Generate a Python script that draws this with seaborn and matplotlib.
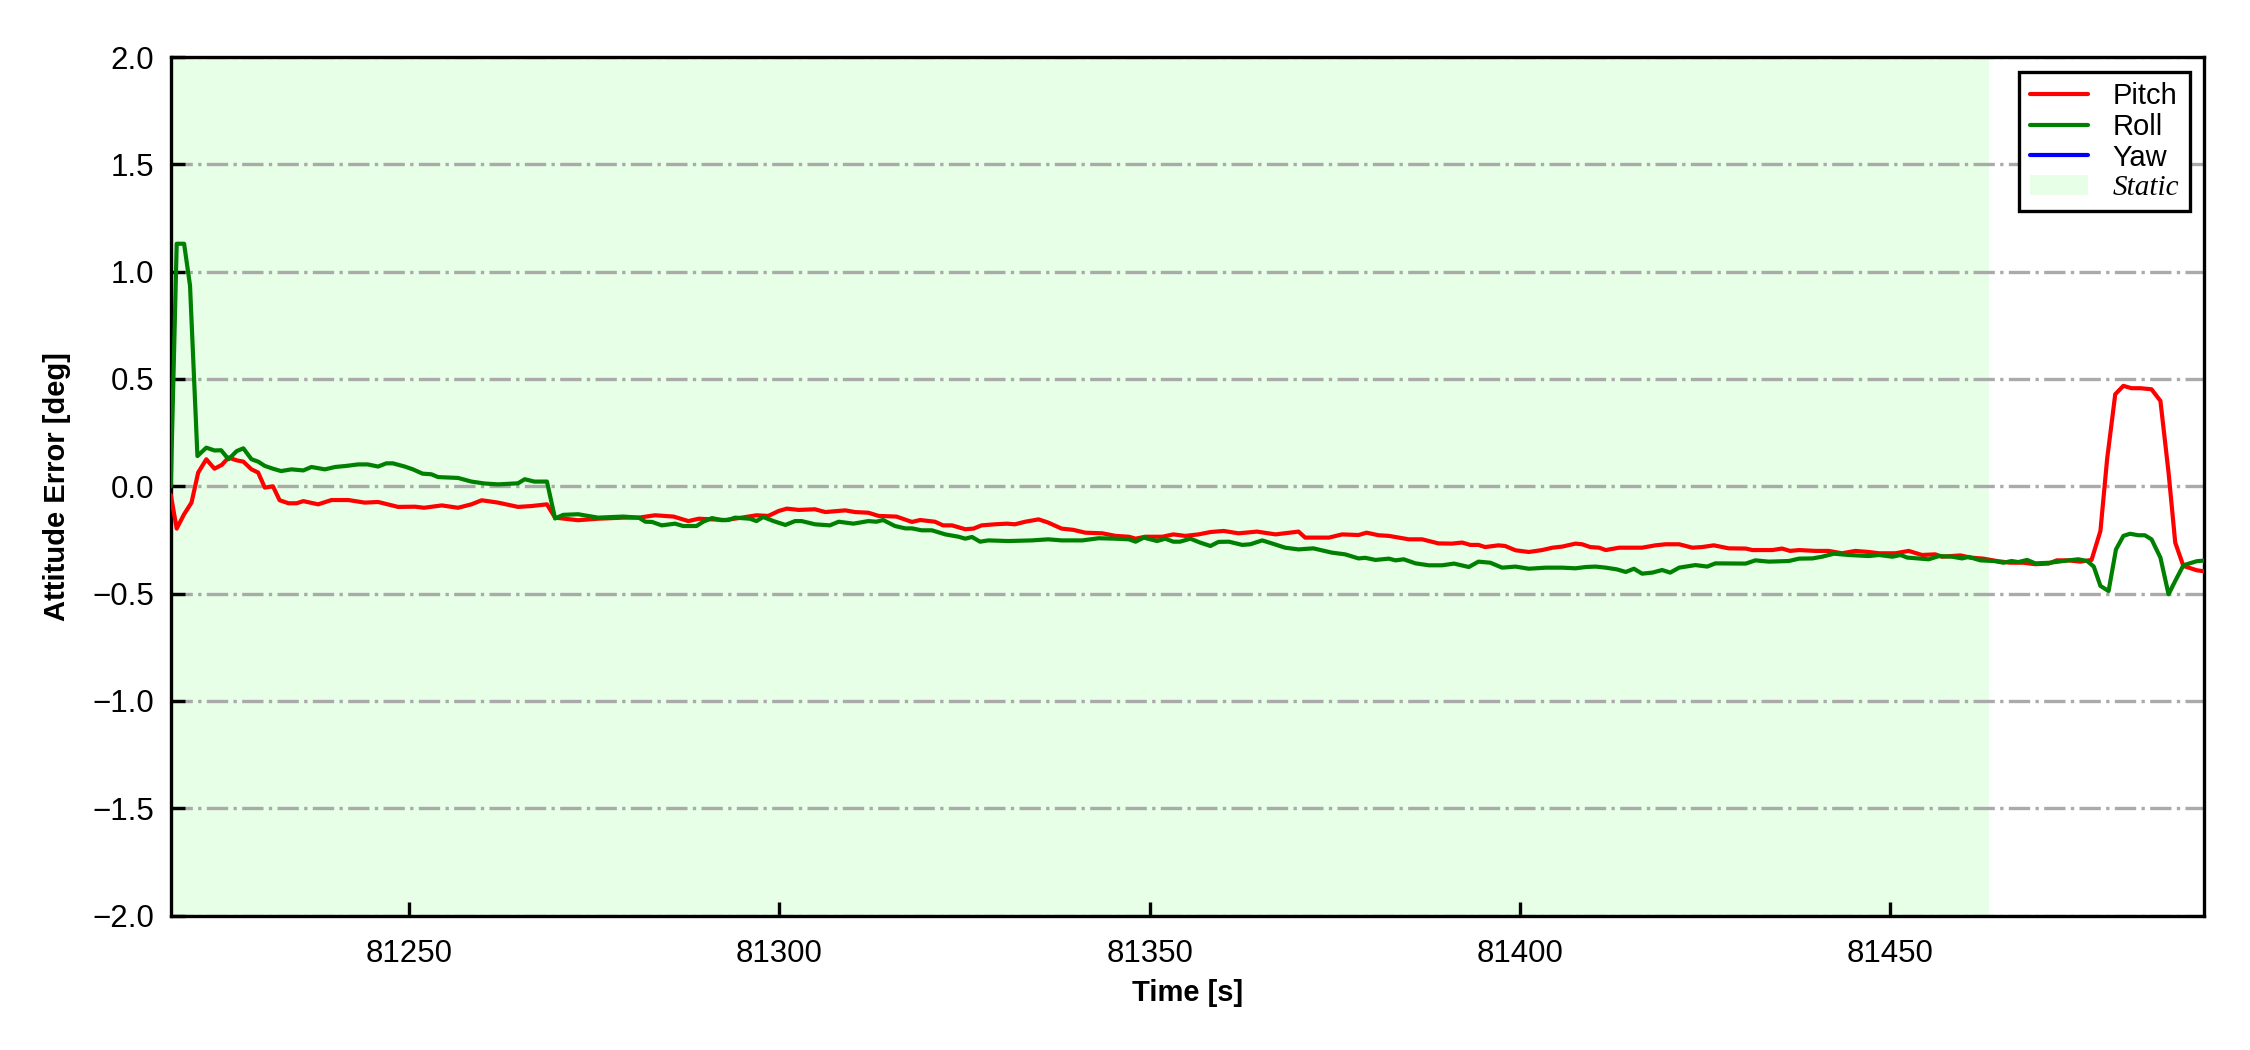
import numpy as np
import pandas as pd
import matplotlib
matplotlib.use("Agg")
import matplotlib.pyplot as plt
from matplotlib.lines import Line2D
from matplotlib.patches import Patch
from matplotlib.font_manager import FontProperties
import seaborn as sns

# ---------------- data ----------------
pitch_t = [81217.8, 81218.6, 81219.6, 81220.6, 81221.5, 81222.6, 81223.7, 81224.7, 81225.6, 81226.7,
           81227.6, 81228.7, 81229.6, 81230.5, 81231.6, 81232.5, 81233.7, 81234.8, 81235.7, 81237.7,
           81239.5, 81241.8, 81244.0, 81245.8, 81248.5, 81250.8, 81252.0, 81254.4, 81256.6, 81258.4,
           81259.8, 81262.0, 81264.7, 81266.5, 81268.6, 81269.7, 81272.8, 81275.5, 81278.9, 81281.0,
           81283.2, 81285.7, 81287.7, 81289.1, 81290.9, 81292.7, 81294.9, 81296.9, 81298.5, 81299.9,
           81301.0, 81302.6, 81304.8, 81306.2, 81308.9, 81310.2, 81312.0, 81313.4, 81315.8, 81317.9,
           81319.0, 81321.0, 81322.1, 81323.3, 81325.1, 81326.2, 81327.3, 81329.1, 81330.7, 81331.8,
           81333.2, 81335.0, 81336.3, 81338.1, 81339.7, 81341.3, 81343.6, 81345.4, 81347.2, 81348.1,
           81349.4, 81351.7, 81353.2, 81354.8, 81356.6, 81358.2, 81360.0, 81362.0, 81364.5, 81367.0,
           81370.1, 81371.0, 81374.2, 81376.0, 81378.2, 81379.3, 81380.9, 81382.3, 81385.0, 81386.8,
           81389.0, 81390.8, 81392.2, 81393.3, 81394.4, 81395.3, 81397.1, 81398.0, 81399.4, 81401.2,
           81403.0, 81404.4, 81405.7, 81407.5, 81408.4, 81409.5, 81410.7, 81411.6, 81413.4, 81416.5,
           81418.3, 81419.7, 81421.5, 81423.3, 81424.6, 81426.2, 81428.2, 81430.5, 81431.4, 81434.1,
           81435.4, 81436.5, 81437.7, 81439.9, 81441.7, 81443.5, 81445.3, 81447.1, 81448.5, 81450.7,
           81452.5, 81454.3, 81456.1, 81457.0, 81459.5, 81460.8, 81462.6, 81464.4, 81466.2, 81468.0,
           81469.6, 81471.4, 81472.5, 81474.1, 81475.7, 81477.2, 81478.4, 81479.3, 81480.4, 81481.5,
           81482.6, 81483.8, 81485.3, 81486.5, 81487.6, 81488.5, 81489.6, 81491.4, 81492.4]
pitch_v = [-0.04, -0.197, -0.13, -0.076, 0.064, 0.126, 0.082, 0.100, 0.134, 0.121,
           0.115, 0.079, 0.064, -0.006, 0.000, -0.065, -0.079, -0.079, -0.069, -0.084,
           -0.064, -0.064, -0.076, -0.073, -0.096, -0.095, -0.100, -0.089, -0.100, -0.084,
           -0.065, -0.076, -0.096, -0.092, -0.084, -0.146, -0.158, -0.151, -0.146, -0.146,
           -0.135, -0.141, -0.162, -0.151, -0.154, -0.157, -0.146, -0.135, -0.138, -0.115,
           -0.104, -0.110, -0.107, -0.120, -0.112, -0.120, -0.123, -0.138, -0.141, -0.166,
           -0.157, -0.165, -0.182, -0.182, -0.200, -0.197, -0.182, -0.177, -0.174, -0.177,
           -0.165, -0.154, -0.169, -0.197, -0.203, -0.216, -0.219, -0.231, -0.235, -0.244,
           -0.235, -0.235, -0.224, -0.231, -0.224, -0.213, -0.208, -0.219, -0.211, -0.224,
           -0.211, -0.239, -0.239, -0.224, -0.227, -0.216, -0.228, -0.231, -0.247, -0.247,
           -0.266, -0.267, -0.262, -0.273, -0.273, -0.283, -0.275, -0.278, -0.298, -0.306,
           -0.297, -0.286, -0.281, -0.267, -0.270, -0.283, -0.286, -0.297, -0.286, -0.286,
           -0.275, -0.270, -0.270, -0.286, -0.283, -0.275, -0.289, -0.290, -0.297, -0.297,
           -0.290, -0.301, -0.297, -0.301, -0.301, -0.312, -0.301, -0.306, -0.312, -0.312,
           -0.301, -0.320, -0.317, -0.328, -0.322, -0.332, -0.337, -0.348, -0.356, -0.356,
           -0.363, -0.360, -0.345, -0.345, -0.351, -0.343, -0.208, 0.126, 0.429, 0.468,
           0.457, 0.457, 0.452, 0.398, 0.064, -0.262, -0.371, -0.391, -0.396]

roll_t = [81217.8, 81218.6, 81219.6, 81220.4, 81221.4, 81222.6, 81223.7, 81224.6, 81225.6, 81226.7,
          81227.6, 81228.7, 81229.6, 81230.5, 81231.6, 81232.7, 81234.1, 81235.7, 81236.8, 81238.6,
          81240.0, 81241.5, 81243.1, 81244.4, 81245.8, 81246.9, 81247.8, 81249.4, 81250.5, 81251.8,
          81253.0, 81253.9, 81256.6, 81258.4, 81260.2, 81262.0, 81264.7, 81265.6, 81266.9, 81268.6,
          81269.7, 81270.8, 81272.8, 81275.5, 81278.9, 81281.0, 81281.9, 81282.8, 81284.1, 81285.9,
          81287.0, 81288.8, 81289.7, 81290.9, 81292.2, 81293.1, 81294.0, 81296.0, 81296.9, 81297.8,
          81299.2, 81300.8, 81302.1, 81303.0, 81304.8, 81306.8, 81308.0, 81310.0, 81312.0, 81313.1,
          81314.0, 81315.6, 81317.0, 81317.9, 81319.2, 81320.6, 81322.4, 81324.2, 81325.1, 81326.0,
          81327.1, 81328.2, 81330.9, 81334.1, 81336.3, 81338.1, 81339.7, 81340.9, 81343.1, 81345.4,
          81347.2, 81348.1, 81349.2, 81351.0, 81352.1, 81353.2, 81354.1, 81355.5, 81356.8, 81358.2,
          81359.3, 81360.7, 81362.5, 81363.6, 81365.2, 81366.5, 81368.3, 81370.1, 81372.1, 81374.6,
          81376.4, 81378.2, 81379.1, 81380.5, 81382.3, 81383.2, 81384.3, 81385.9, 81387.7, 81389.5,
          81391.1, 81393.1, 81394.4, 81396.0, 81397.6, 81399.4, 81401.2, 81403.5, 81405.7, 81407.5,
          81408.9, 81410.2, 81411.6, 81413.1, 81414.3, 81415.4, 81416.5, 81417.9, 81419.2, 81420.3,
          81421.5, 81423.7, 81425.3, 81426.4, 81430.5, 81431.8, 81433.6, 81436.3, 81437.7, 81439.5,
          81440.8, 81442.4, 81444.4, 81447.1, 81448.5, 81450.3, 81451.4, 81452.3, 81455.2, 81456.6,
          81458.4, 81459.7, 81460.6, 81462.2, 81464.0, 81465.3, 81466.4, 81467.3, 81468.5, 81469.6,
          81471.6, 81473.4, 81475.4, 81476.6, 81477.5, 81478.4, 81479.5, 81480.5, 81481.5, 81482.4,
          81483.5, 81484.4, 81485.3, 81486.5, 81487.6, 81488.5, 81489.6, 81491.4, 81492.4]
roll_v = [0.000, 1.130, 1.130, 0.935, 0.141, 0.180, 0.167, 0.168, 0.126, 0.164,
          0.177, 0.126, 0.115, 0.095, 0.082, 0.071, 0.079, 0.074, 0.090, 0.079,
          0.090, 0.095, 0.102, 0.102, 0.092, 0.107, 0.107, 0.092, 0.079, 0.059,
          0.056, 0.043, 0.039, 0.022, 0.013, 0.009, 0.014, 0.033, 0.022, 0.022,
          -0.150, -0.133, -0.130, -0.146, -0.141, -0.146, -0.165, -0.166, -0.182, -0.174,
          -0.185, -0.185, -0.165, -0.148, -0.158, -0.157, -0.146, -0.151, -0.162, -0.143,
          -0.162, -0.180, -0.162, -0.162, -0.177, -0.182, -0.165, -0.174, -0.162, -0.165,
          -0.157, -0.185, -0.196, -0.196, -0.205, -0.205, -0.224, -0.235, -0.244, -0.236,
          -0.258, -0.252, -0.255, -0.252, -0.247, -0.252, -0.252, -0.252, -0.242, -0.244,
          -0.247, -0.258, -0.239, -0.255, -0.244, -0.258, -0.258, -0.244, -0.262, -0.278,
          -0.259, -0.258, -0.273, -0.270, -0.252, -0.266, -0.286, -0.294, -0.289, -0.309,
          -0.317, -0.336, -0.333, -0.343, -0.337, -0.345, -0.340, -0.359, -0.368, -0.368,
          -0.360, -0.376, -0.351, -0.356, -0.379, -0.374, -0.384, -0.379, -0.379, -0.382,
          -0.376, -0.374, -0.379, -0.387, -0.399, -0.384, -0.407, -0.402, -0.390, -0.402,
          -0.379, -0.367, -0.374, -0.359, -0.360, -0.345, -0.351, -0.348, -0.337, -0.336,
          -0.328, -0.314, -0.320, -0.325, -0.320, -0.328, -0.320, -0.332, -0.340, -0.325,
          -0.328, -0.336, -0.329, -0.345, -0.348, -0.356, -0.348, -0.353, -0.343, -0.359,
          -0.356, -0.348, -0.340, -0.348, -0.374, -0.464, -0.488, -0.294, -0.231, -0.221,
          -0.228, -0.228, -0.247, -0.332, -0.503, -0.441, -0.368, -0.349, -0.346]

yaw_t = []
yaw_v = []

static_start = 81217.8
static_end = 81463.4
x_limits = (81217.8, 81492.4)
y_limits = (-2.0, 2.0)
x_ticks = [81250, 81300, 81350, 81400, 81450]
y_ticks = [-2.0, -1.5, -1.0, -0.5, 0.0, 0.5, 1.0, 1.5, 2.0]

# ---------------- style ----------------
sns.set_theme(style="white")
plt.rcParams["font.family"] = ["Liberation Sans", "DejaVu Sans"]
plt.rcParams["axes.unicode_minus"] = True
plt.rcParams["text.color"] = "black"
plt.rcParams["axes.labelcolor"] = "black"
plt.rcParams["xtick.color"] = "black"
plt.rcParams["ytick.color"] = "black"

df = pd.concat([
    pd.DataFrame({"Time": pitch_t, "Error": pitch_v, "Axis": "Pitch"}),
    pd.DataFrame({"Time": roll_t, "Error": roll_v, "Axis": "Roll"}),
], ignore_index=True)

colors = {"Pitch": "#ff0000", "Roll": "#008000", "Yaw": "#0000ff"}
span_color = "#e6ffe6"
lw = 1.0

fig = plt.figure(figsize=(7.5, 3.5), dpi=300)
ax = fig.add_axes([0.0759, 0.128, 0.9037, 0.8177])
ax.set_facecolor("white")

ax.axvspan(static_start, static_end, color=span_color, lw=0, zorder=0)

sns.lineplot(data=df, x="Time", y="Error", hue="Axis", palette=colors,
             linewidth=lw, ax=ax, legend=False, sort=False, zorder=3, estimator=None)
ax.plot(yaw_t, yaw_v, color=colors["Yaw"], lw=lw)

ax.set_xlim(*x_limits)
ax.set_ylim(*y_limits)
ax.set_xticks(x_ticks)
ax.set_yticks(y_ticks)
ax.ticklabel_format(axis="x", useOffset=False, style="plain")
ax.set_yticklabels([f"{v:.1f}".replace("-", "\u2212") for v in y_ticks])

ax.yaxis.grid(True, color="#aaaaaa", linestyle="-.", linewidth=0.8, zorder=1)
ax.xaxis.grid(False)
ax.set_axisbelow(True)

for s in ax.spines.values():
    s.set_color("black")
    s.set_linewidth(0.8)

ax.tick_params(axis="both", which="major", direction="in", length=3.4, width=0.8,
               labelsize=7.5, colors="black", bottom=True, left=True, top=False, right=False)
ax.tick_params(axis="x", pad=5.5)
ax.tick_params(axis="y", pad=4)

ax.set_xlabel("Time [s]", fontsize=7, fontweight="bold", labelpad=2.5, color="black")
ax.set_ylabel("Attitude Error [deg]", fontsize=7, fontweight="bold", labelpad=5, color="black")

handles = [
    Line2D([], [], color=colors["Pitch"], lw=lw),
    Line2D([], [], color=colors["Roll"], lw=lw),
    Line2D([], [], color=colors["Yaw"], lw=lw),
    Patch(facecolor=span_color, edgecolor="none"),
]
labels = ["Pitch", "Roll", "Yaw", "Static"]
leg = ax.legend(handles, labels, loc="upper right", fontsize=7, frameon=True,
                fancybox=False, edgecolor="black", framealpha=1.0,
                borderpad=0.35, labelspacing=0.1, handlelength=2.0, handletextpad=0.85,
                borderaxespad=0.5)
leg.get_frame().set_linewidth(0.8)
for t in leg.get_texts():
    t.set_color("black")
leg.get_texts()[3].set_fontproperties(FontProperties(family="Liberation Serif", style="italic", size=7))

fig.savefig("out.png", dpi=300)
